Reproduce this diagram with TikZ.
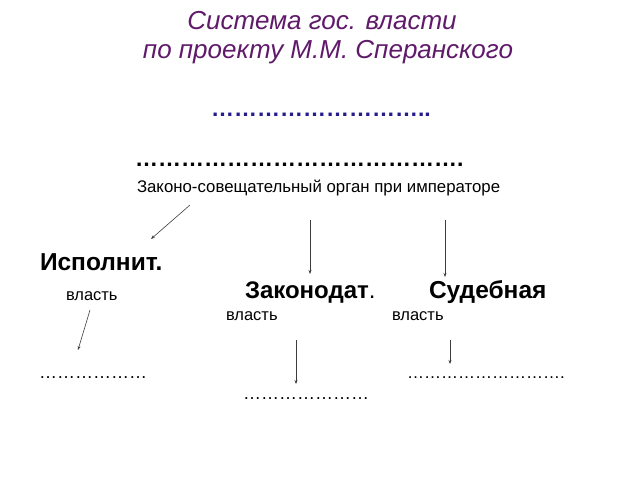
\documentclass[tikz,border=0pt]{standalone}
\usepackage{fontspec}
\setmainfont{Liberation Sans}
\usetikzlibrary{positioning,arrows.meta}
\definecolor{titlepurple}{RGB}{96,26,106}
\definecolor{dotblue}{RGB}{36,28,140}
\definecolor{arrowgray}{RGB}{60,60,60}

\begin{document}
\begin{tikzpicture}[
		x=1pt, y=-1pt
		,every node/.append style={inner sep=0pt, outer sep=0pt}
		,title/.style={font=\fontsize{26}{26}\selectfont\itshape, text=titlepurple, anchor=base}
		,bigdots/.style={font=\fontsize{23}{23}\selectfont\bfseries, anchor=base west}
		,smalldots/.style={font=\fontsize{18}{18}\selectfont, anchor=base west}
		,branch/.style={font=\fontsize{24.5}{24.5}\selectfont\bfseries, anchor=base west}
		,plain/.style={font=\fontsize{16.5}{16.5}\selectfont, anchor=base west}
		,arr/.style={draw=arrowgray, line width=.6pt, -{Stealth[length=4pt, width=3pt]}}
	]
		\useasboundingbox (0,0) rectangle (640,480);
		% title
		\node [title] (T1) at (322,29) {Система гос. власти};
		\node [title] (T2) at (328,58) {по проекту М.М. Сперанского};
		% dotted gaps
		\node [bigdots, text=dotblue] (D1) at (211,116) {………………………..};
		\node [bigdots] (D2) at (135,166) {…………………………………….};
		\node [plain, font=\fontsize{16.8}{16.8}\selectfont] (Org) at (137,192) {Законо-совещательный орган при императоре};
		% three branches
		\node [branch] (Isp) at (40,270) {Исполнит.};
		\node [plain] (IspV) at (66,300) {власть};
		\node [branch, font=\fontsize{24}{24}\selectfont\bfseries] (Zak) at (245,298) {Законодат\textmd{.}};
		\node [plain] (ZakV) at (226,320) {власть};
		\node [branch] (Sud) at (429,298) {Судебная};
		\node [plain] (SudV) at (392,320) {власть};
		% empty places below
		\node [smalldots] (E1) at (39,378) {………………};
		\node [smalldots] (E2) at (243,399) {…………………};
		\node [smalldots, font=\fontsize{17}{17}\selectfont] (E3) at (407,378) {……………………….};
		% arrows
		\coordinate (a1) at (190,205); \coordinate (b1) at (151,239);
		\coordinate (a2) at (310,220); \coordinate (b2) at (310,274);
		\coordinate (a3) at (445,220); \coordinate (b3) at (445,277);
		\coordinate (a4) at (90,310); \coordinate (b4) at (78,350);
		\coordinate (a5) at (296,340); \coordinate (b5) at (296,384);
		\coordinate (a6) at (450,340); \coordinate (b6) at (450,364);
		\foreach \i in {1,...,6}
			\draw [arr] (a\i) -- (b\i);
	\end{tikzpicture}
\end{document}
